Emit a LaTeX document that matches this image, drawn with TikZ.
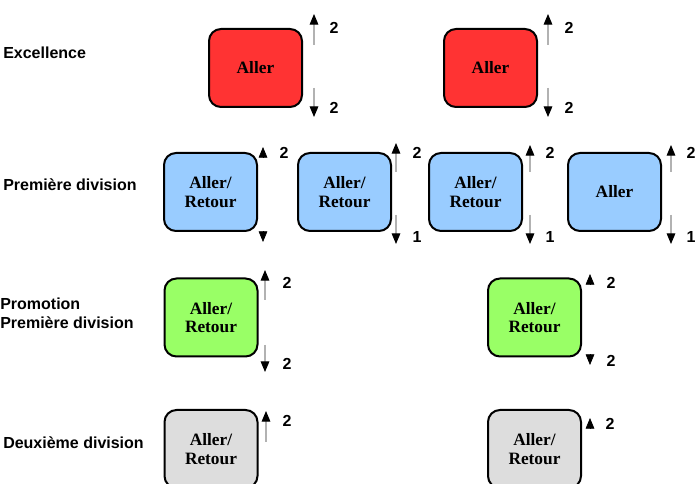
\documentclass[tikz,border=0pt]{standalone}
\usepackage{fontspec}
\setmainfont{Liberation Serif}
\newfontfamily\labelfont{Liberation Sans}
\usetikzlibrary{arrows.meta}

\definecolor{boxred}{HTML}{FF3333}
\definecolor{boxblue}{HTML}{99CCFF}
\definecolor{boxgreen}{HTML}{99FF66}
\definecolor{boxgray}{HTML}{DDDDDD}

\begin{document}
\begin{tikzpicture}[x=0.75pt,y=0.75pt,yscale=-1,xscale=1,
	match/.style={draw=black,line width=1.5pt,rounded corners=9pt,minimum width=69.75pt,minimum height=58.5pt,align=center,font=\fontsize{13}{14}\selectfont\bfseries,inner sep=0pt},
	level/.style={anchor=west,align=left,inner sep=0pt,font=\labelfont\fontsize{12}{14.5}\selectfont\bfseries},
	num/.style={inner sep=0pt,font=\labelfont\fontsize{12}{14}\selectfont\bfseries},
	legs/.style={draw=gray!60,line width=0.8pt,-{Triangle[length=8pt,width=6.5pt,color=black]}},
	tip/.style={draw=black,line width=0.5pt,-{Triangle[length=8pt,width=6.5pt,color=black]}}]
	\clip (0,0) rectangle (697,484);
	\fill[white] (0,0) rectangle (697,484);

	% Text Node
	\draw (3,53) node [level] (excellence) {Excellence};
	% Text Node
	\draw (3,185) node [level] (premiere) {Première division};
	% Text Node
	\draw (0,313) node [level] (promotion) {Promotion\\Première division};
	% Text Node
	\draw (3,443) node [level] (deuxieme) {Deuxième division};

	%Excellence
	\draw (255.5,68) node [match,fill=boxred] (ex1) {Aller};
	\draw (490.5,68) node [match,fill=boxred] (ex2) {Aller};
	\draw [legs] (314,45) -- (314,14) ;
	\draw [legs] (314,88) -- (314,117) ;
	\draw (334,28) node [num] (ex1in) {2};
	\draw (334,108) node [num] (ex1out) {2};
	\draw [legs] (548,45) -- (548,14) ;
	\draw [legs] (548,88) -- (548,117) ;
	\draw (569,28) node [num] (ex2in) {2};
	\draw (569,108) node [num] (ex2out) {2};

	%Premiere division
	\draw (210.5,192) node [match,fill=boxblue] (pd1) {Aller/\\Retour};
	\draw (344.5,192) node [match,fill=boxblue] (pd2) {Aller/\\Retour};
	\draw (475.5,192) node [match,fill=boxblue] (pd3) {Aller/\\Retour};
	\draw (614.5,192) node [match,fill=boxblue] (pd4) {Aller};
	\draw [tip] (263,157) -- (263,147) ;
	\draw [tip] (263,232) -- (263,242) ;
	\draw (284,153) node [num] (pd1in) {2};
	\draw [legs] (396,172) -- (396,143) ;
	\draw [legs] (396,215) -- (396,244) ;
	\draw (417,153) node [num] (pd2in) {2};
	\draw (417,237) node [num] (pd2out) {1};
	\draw [legs] (530,172) -- (530,145) ;
	\draw [legs] (530,215) -- (530,244) ;
	\draw (550,153) node [num] (pd3in) {2};
	\draw (550,237) node [num] (pd3out) {1};
	\draw [legs] (671,172) -- (671,145) ;
	\draw [legs] (671,215) -- (671,244) ;
	\draw (691,153) node [num] (pd4in) {2};
	\draw (691,237) node [num] (pd4out) {1};

	%Promotion
	\draw (211,317.5) node [match,fill=boxgreen] (pr1) {Aller/\\Retour};
	\draw (534.5,317.5) node [match,fill=boxgreen] (pr2) {Aller/\\Retour};
	\draw [legs] (265,300) -- (265,270) ;
	\draw [legs] (265,345) -- (265,372) ;
	\draw (287,283) node [num] (pr1in) {2};
	\draw (287,364) node [num] (pr1out) {2};
	\draw [tip] (590,284) -- (590,274) ;
	\draw [tip] (590,355) -- (590,365) ;
	\draw (611,283) node [num] (pr2in) {2};
	\draw (611,361) node [num] (pr2out) {2};

	%Deuxieme division
	\draw (211,449) node [match,fill=boxgray] (dd1) {Aller/\\Retour};
	\draw (534.5,449) node [match,fill=boxgray] (dd2) {Aller/\\Retour};
	\draw [legs] (266,442) -- (266,411) ;
	\draw (287,421) node [num] (dd1in) {2};
	\draw [tip] (590,428) -- (590,418) ;
	\draw (610,424) node [num] (dd2in) {2};

\end{tikzpicture}
\end{document}
